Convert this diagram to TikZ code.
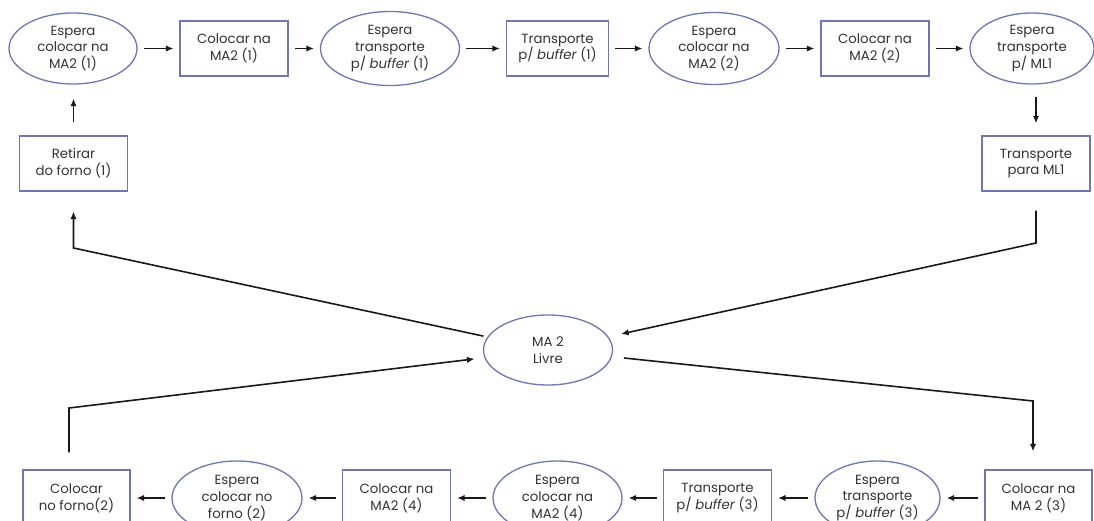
\documentclass[tikz,border=0pt]{standalone}
\usepackage{fontspec}
\setmainfont{Poppins}
\usetikzlibrary{shapes.geometric,arrows.meta,calc}
\definecolor{outl}{HTML}{6E76B8}
\definecolor{txt}{HTML}{333333}
\begin{document}
\begin{tikzpicture}[x=1pt,y=-1pt,
  lbl/.style={align=center, text=txt, inner sep=0pt, font=\fontsize{13.3}{16.8}\selectfont},
  box/.style={lbl, draw=outl, line width=1.3pt, rectangle, minimum width=108pt, minimum height=55pt},
  ell/.style={lbl, draw=outl, line width=1.3pt, ellipse},
  arr/.style={-{Latex[length=7.5pt,width=6.5pt]}, line width=1.6pt, black!90},
  rowarr/.style={arr, shorten <=6pt, shorten >=6pt}]
\useasboundingbox (0,0) rectangle (1094,521);
\clip (0,0) rectangle (1094,521);
\fill[white] (0,0) rectangle (1094,521);
% top row
\node[ell, minimum width=128pt, minimum height=71pt] (e1) at (73,48.5) {Espera\\colocar na\\MA2 (1)};
\node[box] (b1) at (234,48.5) {Colocar na\\MA2 (1)};
\node[ell, minimum width=139pt, minimum height=74pt] (e2) at (390,48.5) {Espera\\transporte\\p/ \textit{buffer} (1)};
\node[box, minimum width=102pt] (b2) at (557.5,48.5) {Transporte\\p/ \textit{buffer} (1)};
\node[ell, minimum width=130pt, minimum height=72pt] (e3) at (714,48.5) {Espera\\colocar na\\MA2 (2)};
\node[box] (b3) at (875,48.5) {Colocar na\\MA2 (2)};
\node[ell, minimum width=124pt, minimum height=71pt] (e4) at (1032,48.5) {Espera\\transporte\\p/ ML1};
\node[box] (b4) at (1036,163.5) {Transporte\\para ML1};
\node[box] (b0) at (73.5,163.5) {Retirar\\do forno (1)};
% middle
\node[ell, minimum width=129pt, minimum height=70pt] (m) at (548,350) {MA 2\\Livre};
% bottom row
\node[box, minimum width=107pt, minimum height=56pt] (c1) at (76.5,498) {Colocar\\no forno(2)};
\node[ell, minimum width=130pt, minimum height=74pt] (e5) at (237,498) {Espera\\colocar no\\forno (2)};
\node[box, minimum height=56pt] (b5) at (396.5,498) {Colocar na\\MA2 (4)};
\node[ell, minimum width=129pt, minimum height=74pt] (e6) at (557.5,498) {Espera\\colocar na\\MA2 (4)};
\node[box, minimum height=56pt] (b6) at (717.5,498) {Transporte\\p/ \textit{buffer} (3)};
\node[ell, minimum width=125pt, minimum height=74pt] (e7) at (877.5,498) {Espera\\transporte\\p/ \textit{buffer} (3)};
\node[box, minimum width=107pt, minimum height=56pt] (b7) at (1038.5,498) {Colocar na\\MA 2 (3)};
% row arrows
\draw[rowarr] (e1) -- (b1);
\draw[rowarr] (b1) -- (e2);
\draw[rowarr] (e2) -- (b2);
\draw[rowarr] (b2) -- (e3);
\draw[rowarr] (e3) -- (b3);
\draw[rowarr] (b3) -- (e4);
\draw[rowarr] (b7) -- (e7);
\draw[rowarr] (e7) -- (b6);
\draw[rowarr] (b6) -- (e6);
\draw[rowarr] (e6) -- (b5);
\draw[rowarr] (b5) -- (e5);
\draw[rowarr] (e5) -- (c1);
% vertical arrows
\draw[arr, shorten <=12pt, shorten >=12pt] (e4.south -| b4.north) -- (b4.north);
\draw[arr, shorten <=13pt, shorten >=14pt] (b0.north) -- (b0.north |- e1.south);
% connectors through the middle
\coordinate (tl) at (73.5,248);
\coordinate (tr) at (1036,243);
\coordinate (bl) at (69,408);
\coordinate (br) at (1033,401);
\draw[arr, shorten <=4pt, shorten >=20pt] (m) -- (tl) -- (b0);
\draw[arr, shorten <=19pt, shorten >=13pt] (b4) -- (tr) -- (m);
\draw[arr, shorten <=17pt, shorten >=10pt] (bl |- c1.north) -- (bl) -- (m);
\draw[arr, shorten <=12pt, shorten >=18pt] (m) -- (br) -- (br |- b7.north);
\end{tikzpicture}
\end{document}
